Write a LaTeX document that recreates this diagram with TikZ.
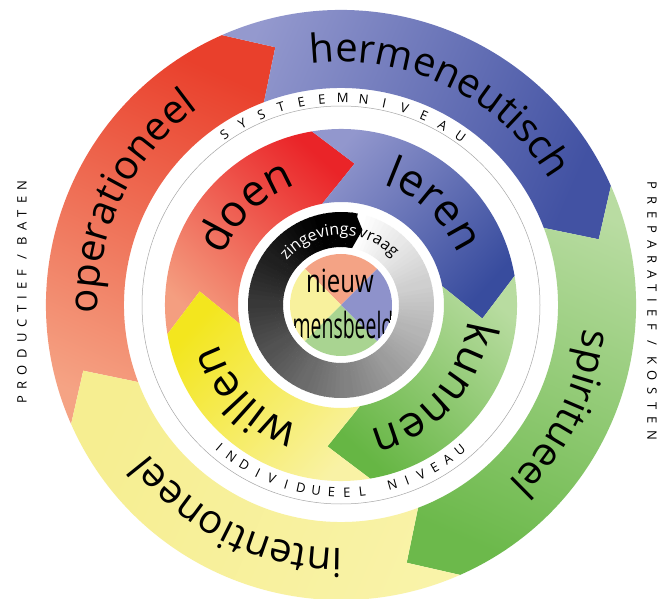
\documentclass[tikz,border=0pt]{standalone}
\usepackage{fontspec}
\setmainfont{Open Sans}
\usetikzlibrary{decorations.text}
\newcommand\fsz[1]{\fontsize{#1}{#1}\selectfont}
% outer ring colours
\definecolor{oRedHead}{RGB}{233,64,44}
\definecolor{oRedTail}{RGB}{245,163,132}
\definecolor{oBlueHead}{RGB}{66,82,163}
\definecolor{oBlueTail}{RGB}{148,153,206}
\definecolor{oGreenHead}{RGB}{108,185,75}
\definecolor{oGreenTail}{RGB}{185,220,162}
\definecolor{oYelHead}{RGB}{246,238,145}
\definecolor{oYelTail}{RGB}{249,243,168}
% inner ring colours
\definecolor{iRedHead}{RGB}{234,36,40}
\definecolor{iRedTail}{RGB}{244,158,128}
\definecolor{iBlueHead}{RGB}{56,76,158}
\definecolor{iBlueTail}{RGB}{146,151,205}
\definecolor{iGreenHead}{RGB}{102,182,68}
\definecolor{iGreenTail}{RGB}{184,220,160}
\definecolor{iYelHead}{RGB}{243,230,30}
\definecolor{iYelTail}{RGB}{249,242,165}
% centre quadrants
\definecolor{qTop}{RGB}{244,163,133}
\definecolor{qRight}{RGB}{142,146,203}
\definecolor{qBottom}{RGB}{169,212,145}
\definecolor{qLeft}{RGB}{248,241,157}
\tikzset{
  arclabel/.style={decorate, decoration={text along path, text align=center, text={#1}}},
  arcleft/.style={decorate, decoration={text along path, text align=left, text={#1}}},
  capletter/.style={font=\fsz{13}, anchor=base, inner sep=0pt},
}
\begin{document}
\begin{tikzpicture}[x=1pt,y=1pt]
\useasboundingbox (0,0) rectangle (667,598);
\fill[white] (0,0) rectangle (667,598);
\begin{scope}[shift={(341,293)}]
  % ---------- outer ring (r 217..295, tip r 266) ----------
  \shade[top color=oRedHead, bottom color=oRedTail, shading angle=-24]
    (203.8:295) arc[start angle=203.8, end angle=113.8, radius=295] -- (104.3:266) -- (110.8:217)
    arc[start angle=110.8, end angle=200.8, radius=217] -- (194.3:266) -- cycle;
  \shade[top color=oBlueHead, bottom color=oBlueTail, shading angle=-113.5]
    (113.8:295) arc[start angle=113.8, end angle=23.8, radius=295] -- (14.3:266) -- (20.8:217)
    arc[start angle=20.8, end angle=110.8, radius=217] -- (104.3:266) -- cycle;
  \shade[top color=oGreenHead, bottom color=oGreenTail, shading angle=156.5]
    (23.8:295) arc[start angle=23.8, end angle=-66.2, radius=295] -- (-75.7:266) -- (-69.2:217)
    arc[start angle=-69.2, end angle=20.8, radius=217] -- (14.3:266) -- cycle;
  \shade[top color=oYelHead, bottom color=oYelTail, shading angle=66.5]
    (293.8:295) arc[start angle=293.8, end angle=203.8, radius=295] -- (194.3:266) -- (200.8:217)
    arc[start angle=200.8, end angle=290.8, radius=217] -- (284.3:266) -- cycle;
  % thin circle in the white band
  \draw[black!35, line width=0.5pt] (0,0) circle[radius=199];
  % ---------- inner ring (r 103..176, tip r 142) ----------
  \shade[top color=iRedHead, bottom color=iRedTail, shading angle=-42.5]
    (189.5:176) arc[start angle=189.5, end angle=99.5, radius=176] -- (84.5:142) -- (100.5:103)
    arc[start angle=100.5, end angle=190.5, radius=103] -- (174.5:142) -- cycle;
  \shade[top color=iBlueHead, bottom color=iBlueTail, shading angle=-132.5]
    (99.5:176) arc[start angle=99.5, end angle=9.5, radius=176] -- (-5.5:142) -- (10.5:103)
    arc[start angle=10.5, end angle=100.5, radius=103] -- (84.5:142) -- cycle;
  \shade[top color=iGreenHead, bottom color=iGreenTail, shading angle=137.5]
    (9.5:176) arc[start angle=9.5, end angle=-80.5, radius=176] -- (-95.5:142) -- (-79.5:103)
    arc[start angle=-79.5, end angle=10.5, radius=103] -- (-5.5:142) -- cycle;
  \shade[top color=iYelHead, bottom color=iYelTail, shading angle=47.5]
    (279.5:176) arc[start angle=279.5, end angle=189.5, radius=176] -- (174.5:142) -- (190.5:103)
    arc[start angle=190.5, end angle=280.5, radius=103] -- (264.5:142) -- cycle;
  % ---------- grey ring (r 58..93) ----------
  \foreach \i in {0,...,119}{
    \pgfmathsetmacro\a{80-3*\i}
    \pgfmathsetmacro\b{\a-3.4}
    \pgfmathtruncatemacro\p{min(100,108*\i/119)}
    \fill[black!\p!white] (\a:58) -- (\a:93) arc[start angle=\a, end angle=\b, radius=93]
      -- (\b:58) arc[start angle=\b, end angle=\a, radius=58] -- cycle;
  }
  \fill[black] (84:93) arc[start angle=84, end angle=81, radius=93] -- (74:78) -- (79:58)
    arc[start angle=79, end angle=84, radius=58] -- cycle;
  % ---------- centre disc ----------
  \fill[qTop] (0,0) -- (45:51) arc[start angle=45, end angle=135, radius=51] -- cycle;
  \fill[qLeft] (0,0) -- (135:51) arc[start angle=135, end angle=225, radius=51] -- cycle;
  \fill[qBottom] (0,0) -- (225:51) arc[start angle=225, end angle=315, radius=51] -- cycle;
  \fill[qRight] (0,0) -- (-45:51) arc[start angle=-45, end angle=45, radius=51] -- cycle;
  \node[xscale=0.75, font=\fsz{32}, anchor=base, inner sep=0pt] (nieuw) at (-1,12) {nieuw};
  \begin{scope}
    \clip (0,0) circle[radius=51];
    \node[xscale=0.54, font=\fsz{36}, anchor=base, inner sep=0pt] (mensbeeld) at (2,-34) {mensbeeld};
  \end{scope}
  % ---------- texts along the grey ring ----------
  \path[arcleft={|\fsz{16}|zingevings}, decoration={text color=white}]
    (141:70) arc[start angle=141, end angle=60, radius=70];
  \path[arcleft={|\fsz{16}|vraag}, decoration={text color=black}]
    (76:70) arc[start angle=76, end angle=0, radius=70];
  % ---------- outer labels ----------
  \path[arclabel={|\fsz{40}|hermeneutisch}] (124:243) arc[start angle=124, end angle=4, radius=243];
  \path[arclabel={|\fsz{40}|spiritueel}] (34:243) arc[start angle=34, end angle=-86, radius=243];
  \path[arclabel={|\fsz{40}|intentioneel}] (-56:243) arc[start angle=-56, end angle=-176, radius=243];
  \path[arclabel={|\fsz{40}|operationeel}] (214:243) arc[start angle=214, end angle=94, radius=243];
  % ---------- inner labels ----------
  \path[arclabel={|\fsz{44}|doen}] (194:128) arc[start angle=194, end angle=74, radius=128];
  \path[arclabel={|\fsz{44}|leren}] (107:128) arc[start angle=107, end angle=-13, radius=128];
  \path[arclabel={|\fsz{44}|kunnen}] (18:128) arc[start angle=18, end angle=-102, radius=128];
  \path[arclabel={|\fsz{44}|willen}] (-76:128) arc[start angle=-76, end angle=-196, radius=128];
  % ---------- level labels (letter-spaced, letter by letter) ----------
  \foreach \ch [count=\i from 0] in {S,Y,S,T,E,E,M,N,I,V,E,A,U}{
    \pgfmathsetmacro\a{89.5+(6-\i)*5.8}
    \node[capletter, rotate=\a-90] (sys\i) at (\a:202) {\ch};
  }
  \foreach \ch [count=\i from 0] in {I,N,D,I,V,I,D,U,E,E,L,{},N,I,V,E,A,U}{
    \pgfmathsetmacro\a{-130.5+\i*4.7}
    \node[capletter, rotate=\a+90] (ind\i) at (\a:192) {\ch};
  }
\end{scope}
\node[rotate=90, font=\fsz{13}\addfontfeature{LetterSpace=48}] (prod) at (22,306) {PRODUCTIEF / BATEN};
\node[rotate=-90, font=\fsz{13}\addfontfeature{LetterSpace=54}] (prep) at (652,287) {PREPARATIEF / KOSTEN};
\end{tikzpicture}
\end{document}
